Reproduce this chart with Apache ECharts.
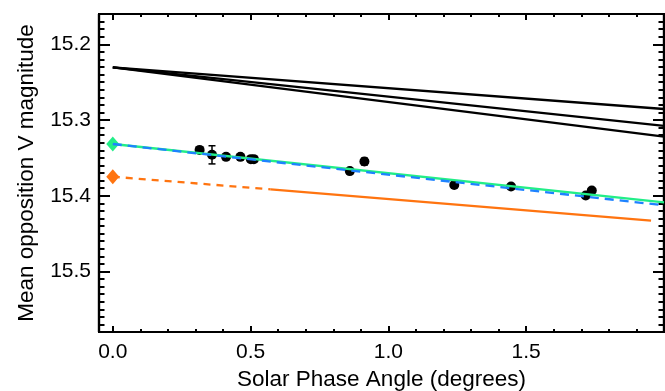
<!DOCTYPE html>
<html><head><meta charset="utf-8">
<script src="https://cdn.jsdelivr.net/npm/echarts@6/dist/echarts.min.js"></script>
<style>html,body{margin:0;padding:0;background:#fff}#c{width:665px;height:391px}</style>
</head><body><div id="c"></div>
<script>
// ---- data ----
const xMajor = [0, 0.5, 1.0, 1.5];
const xMinor = [0.1, 0.2, 0.3, 0.4, 0.6, 0.7, 0.8, 0.9, 1.1, 1.2, 1.3, 1.4, 1.6, 1.7, 1.8, 1.9];
const yMajor = [15.2, 15.3, 15.4, 15.5];
const yMinor = [15.17, 15.18, 15.19, 15.21, 15.22, 15.23, 15.24, 15.25, 15.26, 15.27, 15.28, 15.29,
  15.31, 15.32, 15.33, 15.34, 15.35, 15.36, 15.37, 15.38, 15.39,
  15.41, 15.42, 15.43, 15.44, 15.45, 15.46, 15.47, 15.48, 15.49,
  15.51, 15.52, 15.53, 15.54, 15.55, 15.56, 15.57];
const phase = [0.315, 0.360, 0.411, 0.463, 0.501, 0.512, 0.860, 0.913, 1.239, 1.445, 1.716, 1.738];
const mag = [15.3395, 15.346, 15.3487, 15.3487, 15.3517, 15.3517, 15.3675, 15.3549, 15.3859, 15.3878, 15.3996, 15.393];
const magErr = [0, 0.012, 0, 0, 0, 0, 0, 0.0045, 0, 0, 0, 0];
const blackLine1 = [[0, 15.2305], [2.0, 15.2855]];
const blackLine2 = [[0, 15.2305], [2.0, 15.3079]];
const blackLine3 = [[0, 15.2305], [2.0, 15.322]];
const greenLine = [[0, 15.3317], [2.0, 15.4087]];
const blueLine = [[0, 15.3317], [2.0, 15.4127]];
const orangeDashed = [[0, 15.3749], [0.573, 15.3916]];
const orangeSolid = [[0.573, 15.3916], [1.953, 15.433]];
const greenDiamond = [[0, 15.3317]];
const orangeDiamond = [[0, 15.3749]];

// ---- chart ----
const FONT = 'Liberation Sans, Arial, Helvetica, sans-serif';
const chart = echarts.init(document.getElementById('c'), null, {renderer: 'canvas'});

function xAx(pos, ticks, len, labels, extra) {
  return Object.assign({
    type: 'value', gridIndex: 0, position: pos, min: -0.05, max: 2.0,
    axisLine: {show: true, onZero: false, lineStyle: {color: '#000', width: 2.2}},
    axisTick: {show: true, inside: true, length: len, customValues: ticks, lineStyle: {color: '#000', width: 2}},
    axisLabel: labels ? {show: true, customValues: ticks, formatter: v => Number(v).toFixed(1),
      fontSize: 21, color: '#000', fontFamily: FONT, margin: 10} : {show: false},
    splitLine: {show: false}
  }, extra || {});
}
function yAx(pos, ticks, len, labels, extra) {
  return Object.assign({
    type: 'value', gridIndex: 0, position: pos, min: 15.16, max: 15.58, inverse: true,
    axisLine: {show: true, onZero: false, lineStyle: {color: '#000', width: 2.2}},
    axisTick: {show: true, inside: true, length: len, customValues: ticks, lineStyle: {color: '#000', width: 2}},
    axisLabel: labels ? {show: true, customValues: ticks, formatter: v => Number(v).toFixed(1),
      fontSize: 21, color: '#000', fontFamily: FONT, margin: 8} : {show: false},
    splitLine: {show: false}
  }, extra || {});
}

function lineSeries(data, color, type, width) {
  return {type: 'line', xAxisIndex: 0, yAxisIndex: 0, data: data, symbol: 'none', clip: true,
    lineStyle: {color: color, width: width || 2.3, type: type || 'solid'}, silent: true};
}

const option = {
  animation: false,
  backgroundColor: '#fff',
  grid: {left: 99, right: 1, top: 14, bottom: 59, containLabel: false, outerBoundsMode: 'none'},
  xAxis: [
    xAx('bottom', xMajor, 6, true, {
      name: 'Solar Phase Angle (degrees)', nameLocation: 'middle', nameGap: 36,
      nameTextStyle: {fontSize: 22.5, color: '#000', fontFamily: FONT}
    }),
    xAx('bottom', xMinor, 3, false),
    xAx('top', xMajor, 6, false),
    xAx('top', xMinor, 3, false)
  ],
  yAxis: [
    yAx('left', yMajor, 11, true, {
      name: 'Mean opposition V magnitude', nameLocation: 'middle', nameGap: 61, nameRotate: 90,
      nameTextStyle: {fontSize: 22.5, color: '#000', fontFamily: FONT}
    }),
    yAx('left', yMinor, 5.5, false),
    yAx('right', yMajor, 11, false),
    yAx('right', yMinor, 5.5, false)
  ],
  series: [
    lineSeries(blackLine1, '#000'),
    lineSeries(blackLine2, '#000'),
    lineSeries(blackLine3, '#000'),
    lineSeries(greenLine, '#22ee88'),
    lineSeries(blueLine, '#1e82ff', [9, 6]),
    lineSeries(orangeDashed, '#ff7410', [7, 6]),
    lineSeries(orangeSolid, '#ff7410'),
    {type: 'scatter', data: greenDiamond, symbol: 'diamond', symbolSize: [13, 15],
      itemStyle: {color: '#22ee88', opacity: 1}, silent: true},
    {type: 'scatter', data: orangeDiamond, symbol: 'diamond', symbolSize: [13, 15],
      itemStyle: {color: '#ff7410', opacity: 1}, silent: true},
    {type: 'custom', silent: true,
      data: phase.map((p, i) => [p, mag[i], magErr[i]]),
      renderItem: function (params, api) {
        const x = api.value(0), y = api.value(1), e = api.value(2);
        if (!e) return null;
        const a = api.coord([x, y - e]), b = api.coord([x, y + e]);
        const s = {stroke: '#000', lineWidth: 1.5};
        return {type: 'group', children: [
          {type: 'line', shape: {x1: a[0], y1: a[1], x2: b[0], y2: b[1]}, style: s},
          {type: 'line', shape: {x1: a[0] - 3.5, y1: a[1], x2: a[0] + 3.5, y2: a[1]}, style: s},
          {type: 'line', shape: {x1: b[0] - 3.5, y1: b[1], x2: b[0] + 3.5, y2: b[1]}, style: s}
        ]};
      }
    },
    {type: 'scatter', data: phase.map((p, i) => [p, mag[i]]), symbol: 'circle', symbolSize: 10,
      itemStyle: {color: '#000', opacity: 1}, silent: true}
  ]
};
chart.setOption(option);
</script>
</body></html>
